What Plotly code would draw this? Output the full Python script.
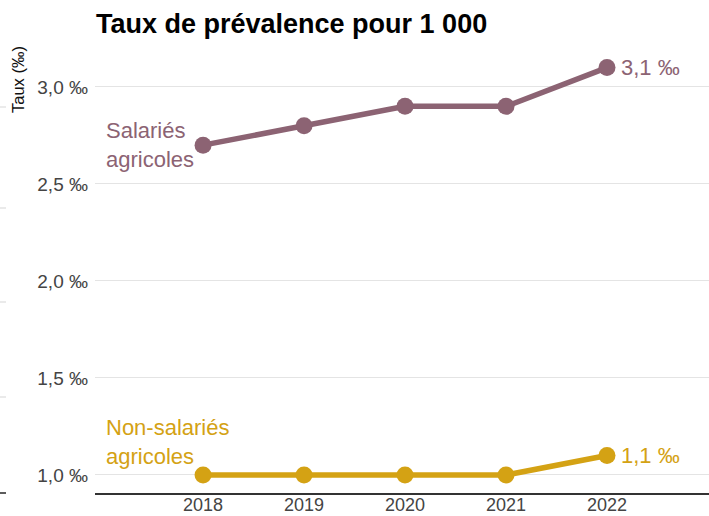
import plotly.graph_objects as go

# Prevalence rate per 1,000 (‰)
years = [2018, 2019, 2020, 2021, 2022]
salaries_agricoles = [2.7, 2.8, 2.9, 2.9, 3.1]
non_salaries_agricoles = [1.0, 1.0, 1.0, 1.0, 1.1]

series_names = ["Salariés<br>agricoles", "Non-salariés<br>agricoles"]
series_values = [salaries_agricoles, non_salaries_agricoles]
series_colors = ["#8C6373", "#D4A214"]
label_shift = [0, 33]

y_ticks = [1.0, 1.5, 2.0, 2.5, 3.0]

FONT = "Liberation Sans, Arial, sans-serif"


def fr_permille(v):
    return f"{v:.1f}".replace(".", ",") + " ‰"


fig = go.Figure()

for name, vals, color in zip(series_names, series_values, series_colors):
    fig.add_trace(go.Scatter(
        x=years, y=vals, mode="lines+markers",
        line=dict(color=color, width=5.5),
        marker=dict(color=color, size=17, line=dict(width=0)),
        hoverinfo="skip", showlegend=False, cliponaxis=False,
    ))

annotations = []
for name, vals, color, shift in zip(series_names, series_values, series_colors, label_shift):
    # series name at the left of the first point
    annotations.append(dict(
        x=9 / 614, xref="paper", y=vals[0], yref="y",
        xanchor="left", yanchor="middle", align="left",
        yshift=shift, text=name, showarrow=False,
        font=dict(family=FONT, size=22, color=color),
    ))
    # last value at the right of the last point
    annotations.append(dict(
        x=years[-1], y=vals[-1], xref="x", yref="y",
        xanchor="left", yanchor="middle", xshift=12,
        text=fr_permille(vals[-1]), showarrow=False,
        font=dict(family=FONT, size=22, color=color),
    ))

# axis caption
annotations.append(dict(
    x=(18 - 95) / 614, xref="paper", y=1 - (80 - 38) / 455, yref="paper",
    xanchor="center", yanchor="middle",
    text="Taux (‰)", showarrow=False, textangle=-90,
    font=dict(family=FONT, size=16.5, color="#111111"),
))

# stubs of neighbouring gridlines at the far left edge
shapes = []
for py, col in [(107, "#dddddd"), (208, "#dddddd"), (302, "#dddddd"),
                (397, "#dddddd"), (493, "#333333")]:
    shapes.append(dict(
        type="line", xref="paper", yref="paper",
        x0=-95 / 614, x1=-89 / 614,
        y0=(516 - 23 - py) / 455, y1=(516 - 23 - py) / 455,
        line=dict(color=col, width=1.2 if col != "#333333" else 1.6),
    ))

fig.update_layout(
    width=709, height=516,
    margin=dict(l=95, r=0, t=38, b=23),
    paper_bgcolor="white", plot_bgcolor="white",
    separators=", ",
    font=dict(family=FONT),
    title=dict(
        text="<b>Taux de prévalence pour 1 000</b>",
        x=96 / 709, xanchor="left", xref="container",
        y=1 - 24 / 516, yanchor="middle", yref="container",
        font=dict(family=FONT, size=27, color="#000000"),
    ),
    xaxis=dict(
        range=[2016.93, 2023.01], tickvals=years,
        ticktext=[str(y) for y in years],
        showgrid=False, zeroline=False, automargin=False,
        showline=True, linecolor="#333333", linewidth=1.6,
        ticks="", ticklabelstandoff=-5,
        tickfont=dict(family=FONT, size=18, color="#444444"),
    ),
    yaxis=dict(
        range=[0.907, 0.907 + 455 / 194], tickvals=y_ticks,
        ticktext=[fr_permille(v) for v in y_ticks],
        showgrid=True, gridcolor="#e4e4e4", gridwidth=1,
        zeroline=False, showline=False, ticks="", automargin=False,
        ticklabelstandoff=6,
        tickfont=dict(family=FONT, size=19, color="#444444"),
    ),
    annotations=annotations,
    shapes=shapes,
)

fig.write_html("out.html")
